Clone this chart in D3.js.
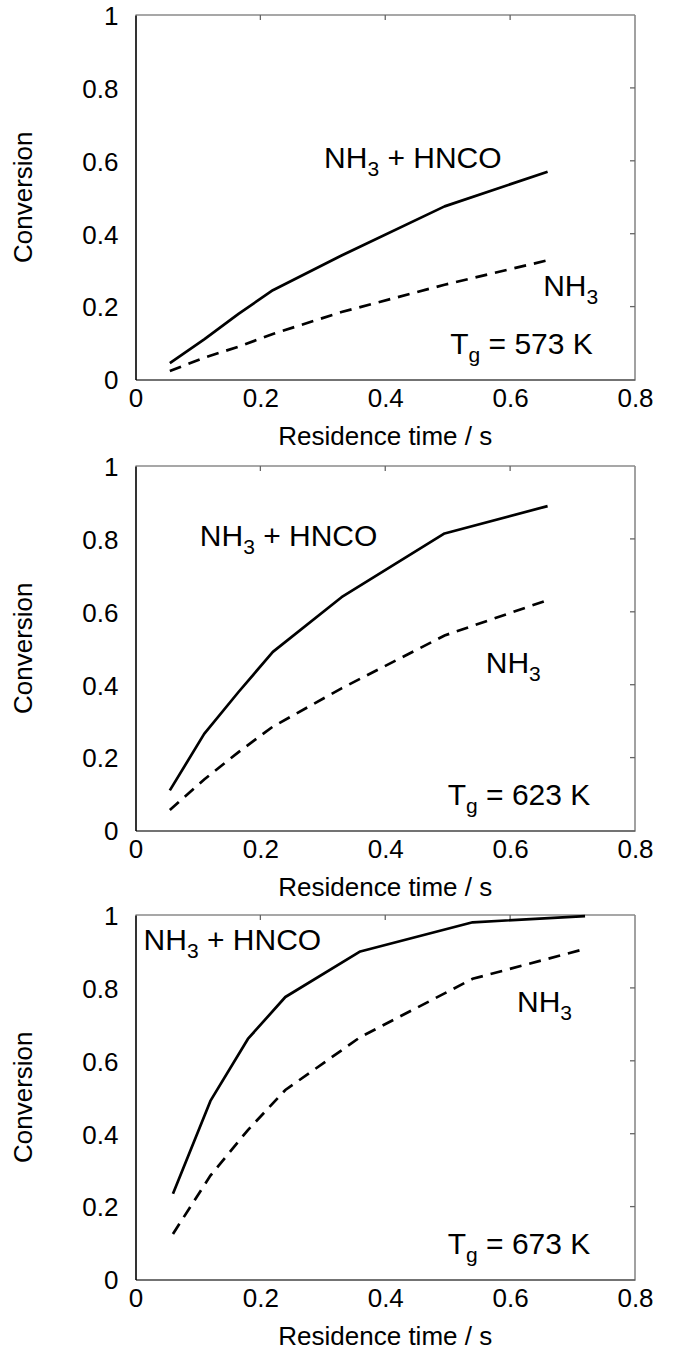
<!DOCTYPE html>
<html><head><meta charset="utf-8">
<script src="https://cdn.jsdelivr.net/npm/d3@7"></script>
<style>
html,body{margin:0;padding:0;background:#fff;}
svg{display:block;font-family:"Liberation Sans",Arial,Helvetica,sans-serif;}
</style></head>
<body>
<script>
// ---- data ----
const xTicks = [0, 0.2, 0.4, 0.6, 0.8];
const yTicks = [0, 0.2, 0.4, 0.6, 0.8, 1];
const xTickLabels = ["0", "0.2", "0.4", "0.6", "0.8"];
const yTickLabels = ["0", "0.2", "0.4", "0.6", "0.8", "1"];
const temps = ["573", "623", "673"];

const time573 = [0.055, 0.11, 0.165, 0.22, 0.33, 0.495, 0.66];
const total573 = [0.045, 0.11, 0.18, 0.245, 0.34, 0.475, 0.57];
const nh3_573 = [0.023, 0.06, 0.09, 0.125, 0.185, 0.26, 0.327];

const time623 = [0.055, 0.11, 0.165, 0.22, 0.33, 0.495, 0.66];
const total623 = [0.11, 0.265, 0.38, 0.49, 0.64, 0.815, 0.89];
const nh3_623 = [0.056, 0.14, 0.215, 0.285, 0.39, 0.535, 0.632];

const time673 = [0.06, 0.12, 0.18, 0.24, 0.36, 0.54, 0.72];
const total673 = [0.235, 0.49, 0.66, 0.775, 0.90, 0.98, 0.997];
const nh3_673 = [0.125, 0.285, 0.41, 0.52, 0.665, 0.825, 0.907];

// label anchor points in data coordinates [x, y]
const labelTotalPos = [[0.302, 0.58], [0.103, 0.78], [0.013, 0.903]];
const labelNH3Pos = [[0.653, 0.228], [0.561, 0.432], [0.611, 0.733]];
const labelTgPos = [[0.504, 0.069], [0.50, 0.07], [0.50, 0.071]];

const panels = [
  {t: time573, a: total573, b: nh3_573},
  {t: time623, a: total623, b: nh3_623},
  {t: time673, a: total673, b: nh3_673}
];

// ---- layout ----
const W = 675, H = 1350;
const left = 135.5, right = 635;
const panelTops = [15, 466, 915];
const ph = 364.5;

const svg = d3.select("body").append("svg").attr("width", W).attr("height", H);

const x = d3.scaleLinear().domain([0, 0.8]).range([left, right]);

panels.forEach((p, i) => {
  const top = panelTops[i], bottom = top + ph;
  const y = d3.scaleLinear().domain([0, 1]).range([bottom, top]);
  const g = svg.append("g");

  // frame: top & right gray
  g.append("line").attr("x1", left).attr("x2", right).attr("y1", top).attr("y2", top)
    .attr("stroke", "#8a8a8a").attr("stroke-width", 1.6);
  g.append("line").attr("x1", right).attr("x2", right).attr("y1", top).attr("y2", bottom)
    .attr("stroke", "#8a8a8a").attr("stroke-width", 1.6);
  // mirror ticks (inward)
  g.selectAll(".tt").data(xTicks.slice(1, -1)).enter().append("line")
    .attr("x1", d => x(d)).attr("x2", d => x(d)).attr("y1", top).attr("y2", top + 5)
    .attr("stroke", "#666").attr("stroke-width", 1.3);
  g.selectAll(".rt").data(yTicks.slice(1, -1)).enter().append("line")
    .attr("x1", right).attr("x2", right - 5).attr("y1", d => y(d)).attr("y2", d => y(d))
    .attr("stroke", "#666").attr("stroke-width", 1.3);

  // bottom axis
  const xAxis = d3.axisBottom(x).tickValues(xTicks).tickSize(0).tickPadding(0)
    .tickFormat((d, k) => xTickLabels[k]);
  const gx = g.append("g").attr("transform", `translate(0,${bottom})`).call(xAxis);
  gx.select(".domain").attr("stroke", "#444").attr("stroke-width", 1.6);
  gx.selectAll("text").attr("font-size", 26).attr("fill", "#000")
    .attr("font-family", "Liberation Sans, Arial, sans-serif")
    .attr("dy", null).attr("y", 27);

  // left axis
  const yAxis = d3.axisLeft(y).tickValues(yTicks).tickSize(0).tickPadding(17)
    .tickFormat((d, k) => yTickLabels[k]);
  const gy = g.append("g").attr("transform", `translate(${left},0)`).call(yAxis);
  gy.select(".domain").attr("stroke", "#000").attr("stroke-width", 1.6);
  gy.selectAll("text").attr("font-size", 26).attr("fill", "#000")
    .attr("font-family", "Liberation Sans, Arial, sans-serif")
    .attr("dy", "0.36em");

  // axis titles
  g.append("text").attr("x", (left + right) / 2).attr("y", bottom + 65)
    .attr("text-anchor", "middle").attr("font-size", 26).text("Residence time / s");
  g.append("text").attr("transform", `translate(32,${(top + bottom) / 2}) rotate(-90)`)
    .attr("text-anchor", "middle").attr("font-size", 26).text("Conversion");

  // lines
  const line = d3.line().x(d => x(d[0])).y(d => y(d[1]));
  g.append("path").datum(p.t.map((t, k) => [t, p.a[k]])).attr("d", line)
    .attr("fill", "none").attr("stroke", "#000").attr("stroke-width", 2.7)
    .attr("stroke-linejoin", "round");
  g.append("path").datum(p.t.map((t, k) => [t, p.b[k]])).attr("d", line)
    .attr("fill", "none").attr("stroke", "#000").attr("stroke-width", 2.7)
    .attr("stroke-dasharray", "12,8");

  // labels
  const t1 = g.append("text").attr("x", x(labelTotalPos[i][0])).attr("y", y(labelTotalPos[i][1]))
    .attr("font-size", 30);
  t1.append("tspan").text("NH");
  t1.append("tspan").attr("font-size", 21).attr("dy", 8).text("3");
  t1.append("tspan").attr("dy", -8).text(" + HNCO");

  const t2 = g.append("text").attr("x", x(labelNH3Pos[i][0])).attr("y", y(labelNH3Pos[i][1]))
    .attr("font-size", 30);
  t2.append("tspan").text("NH");
  t2.append("tspan").attr("font-size", 21).attr("dy", 8).text("3");

  const t3 = g.append("text").attr("x", x(labelTgPos[i][0])).attr("y", y(labelTgPos[i][1]))
    .attr("font-size", 30);
  t3.append("tspan").text("T");
  t3.append("tspan").attr("font-size", 21).attr("dy", 8).text("g");
  t3.append("tspan").attr("dy", -8).text(` = ${temps[i]} K`);
});
</script>
</body></html>
